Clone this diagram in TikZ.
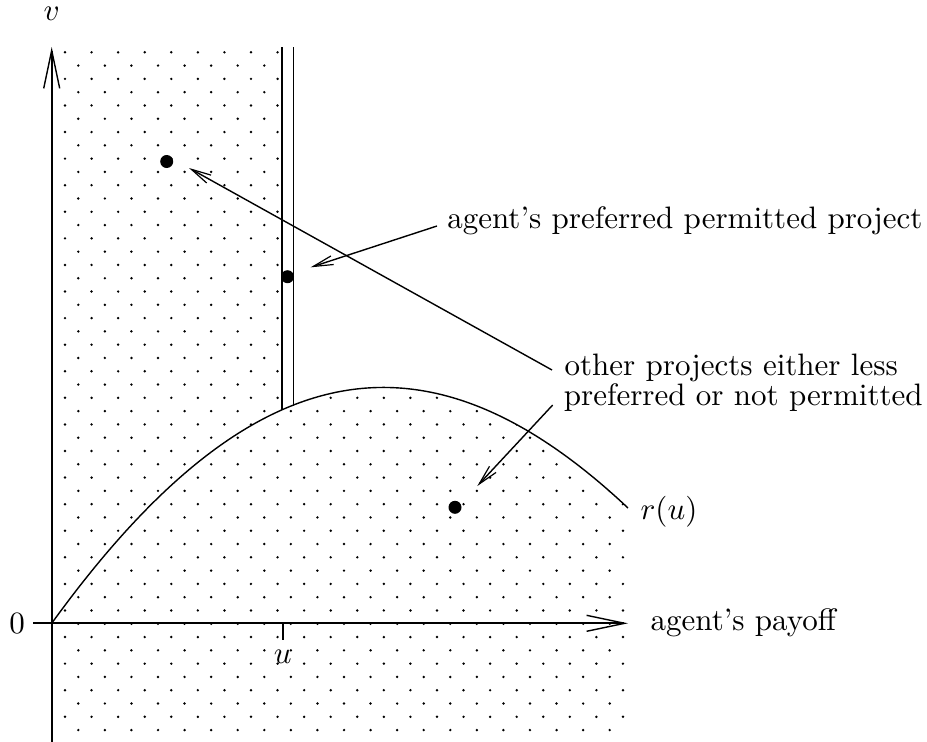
\documentclass[tikz,border=0pt]{standalone}
\usetikzlibrary{arrows.meta}
\begin{document}
\begin{tikzpicture}[x=1pt,y=-1pt,
  axisline/.style={line width=2.2pt},
  curveline/.style={line width=1.4pt},
  vline/.style={line width=1.6pt},
  conn/.style={line width=1.4pt,-{Straight Barb[length=20pt,width=9pt,line width=1.2pt]}},
  axarrow/.style={-{Straight Barb[length=38pt,width=16pt,line width=1.4pt]}},
  bigdot/.style={circle,fill=black,inner sep=0pt,minimum size=13pt},
  lbl/.style={scale=3.1,inner sep=0pt}]
\useasboundingbox (0,0) rectangle (927,742);
\newcommand{\dotgrid}{%
  \foreach \i in {0,...,51} {
    \pgfmathsetmacro\yy{52.3+\i*13.29}
    \pgfmathsetmacro\xs{mod(\i,2)==0 ? 65 : 78.3}
    \foreach \k in {0,...,21} { \fill (\xs+\k*26.57,\yy) circle[radius=1.35]; }
  }}
% dotted region, left strip
\begin{scope}
  \clip (55,40) rectangle (288,742);
  \dotgrid
\end{scope}
% dotted region, under the curve
\begin{scope}
  \clip (288,40) rectangle (626,742);
  \clip (51.7,623.3) .. controls (251.7,347) and (428,320) .. (628,508) -- (628,742) -- (51.7,742) -- cycle;
  \dotgrid
\end{scope}
% axes
\coordinate (ybot) at (51.7,742);
\coordinate (ytop) at (51.7,47);
\coordinate (xleft) at (33.3,623.3);
\coordinate (xright) at (628,623.3);
\coordinate (o) at (51.7,623.3);
\draw[axisline,axarrow] (ybot) -- (ytop);
\draw[axisline,axarrow] (xleft) -- (xright);
% tick
\coordinate (tk1) at (282.7,623.3);
\coordinate (tk2) at (282.7,640);
\draw[axisline] (tk1) -- (tk2);
% curve r(u)
\coordinate (rend) at (628,508);
\draw[curveline] (o) .. controls (251.7,347) and (428,320) .. (rend);
% double vertical line
\coordinate (l1t) at (281.7,47);
\coordinate (l1b) at (281.7,410);
\coordinate (l2t) at (293.3,47);
\coordinate (l2b) at (293.3,406);
\draw[vline] (l1t) -- (l1b);
\draw[vline] (l2t) -- (l2b);
% big dots
\node[bigdot] (d1) at (166.7,161.5) {};
\node[bigdot] (d2) at (287.5,276.7) {};
\node[bigdot] (d3) at (455,507.3) {};
% labels
\node[lbl] (lv) at (51.7,13.5) {$v$};
\node[lbl] (l0) at (17,624) {$0$};
\node[lbl] (lu) at (282.7,657) {$u$};
\node[lbl,anchor=west] (lr) at (640,511.7) {$r(u)$};
\node[lbl,anchor=base west] (lpay) at (650,630) {agent's payoff};
\node[lbl,anchor=base west] (lpref) at (446.7,228.3) {agent's preferred permitted project};
\node[lbl,anchor=base west] (loth1) at (564,375) {other projects either less};
\node[lbl,anchor=base west] (loth2) at (563.3,405) {preferred or not permitted};
% connectors
\coordinate (a1s) at (552,370);
\coordinate (a1t) at (189,168);
\coordinate (a2s) at (437,226);
\coordinate (a2t) at (310.7,267.3);
\coordinate (a3s) at (552.7,405);
\coordinate (a3t) at (477.3,486);
\draw[conn] (a1s) -- (a1t);
\draw[conn] (a2s) -- (a2t);
\draw[conn] (a3s) -- (a3t);
\end{tikzpicture}
\end{document}
